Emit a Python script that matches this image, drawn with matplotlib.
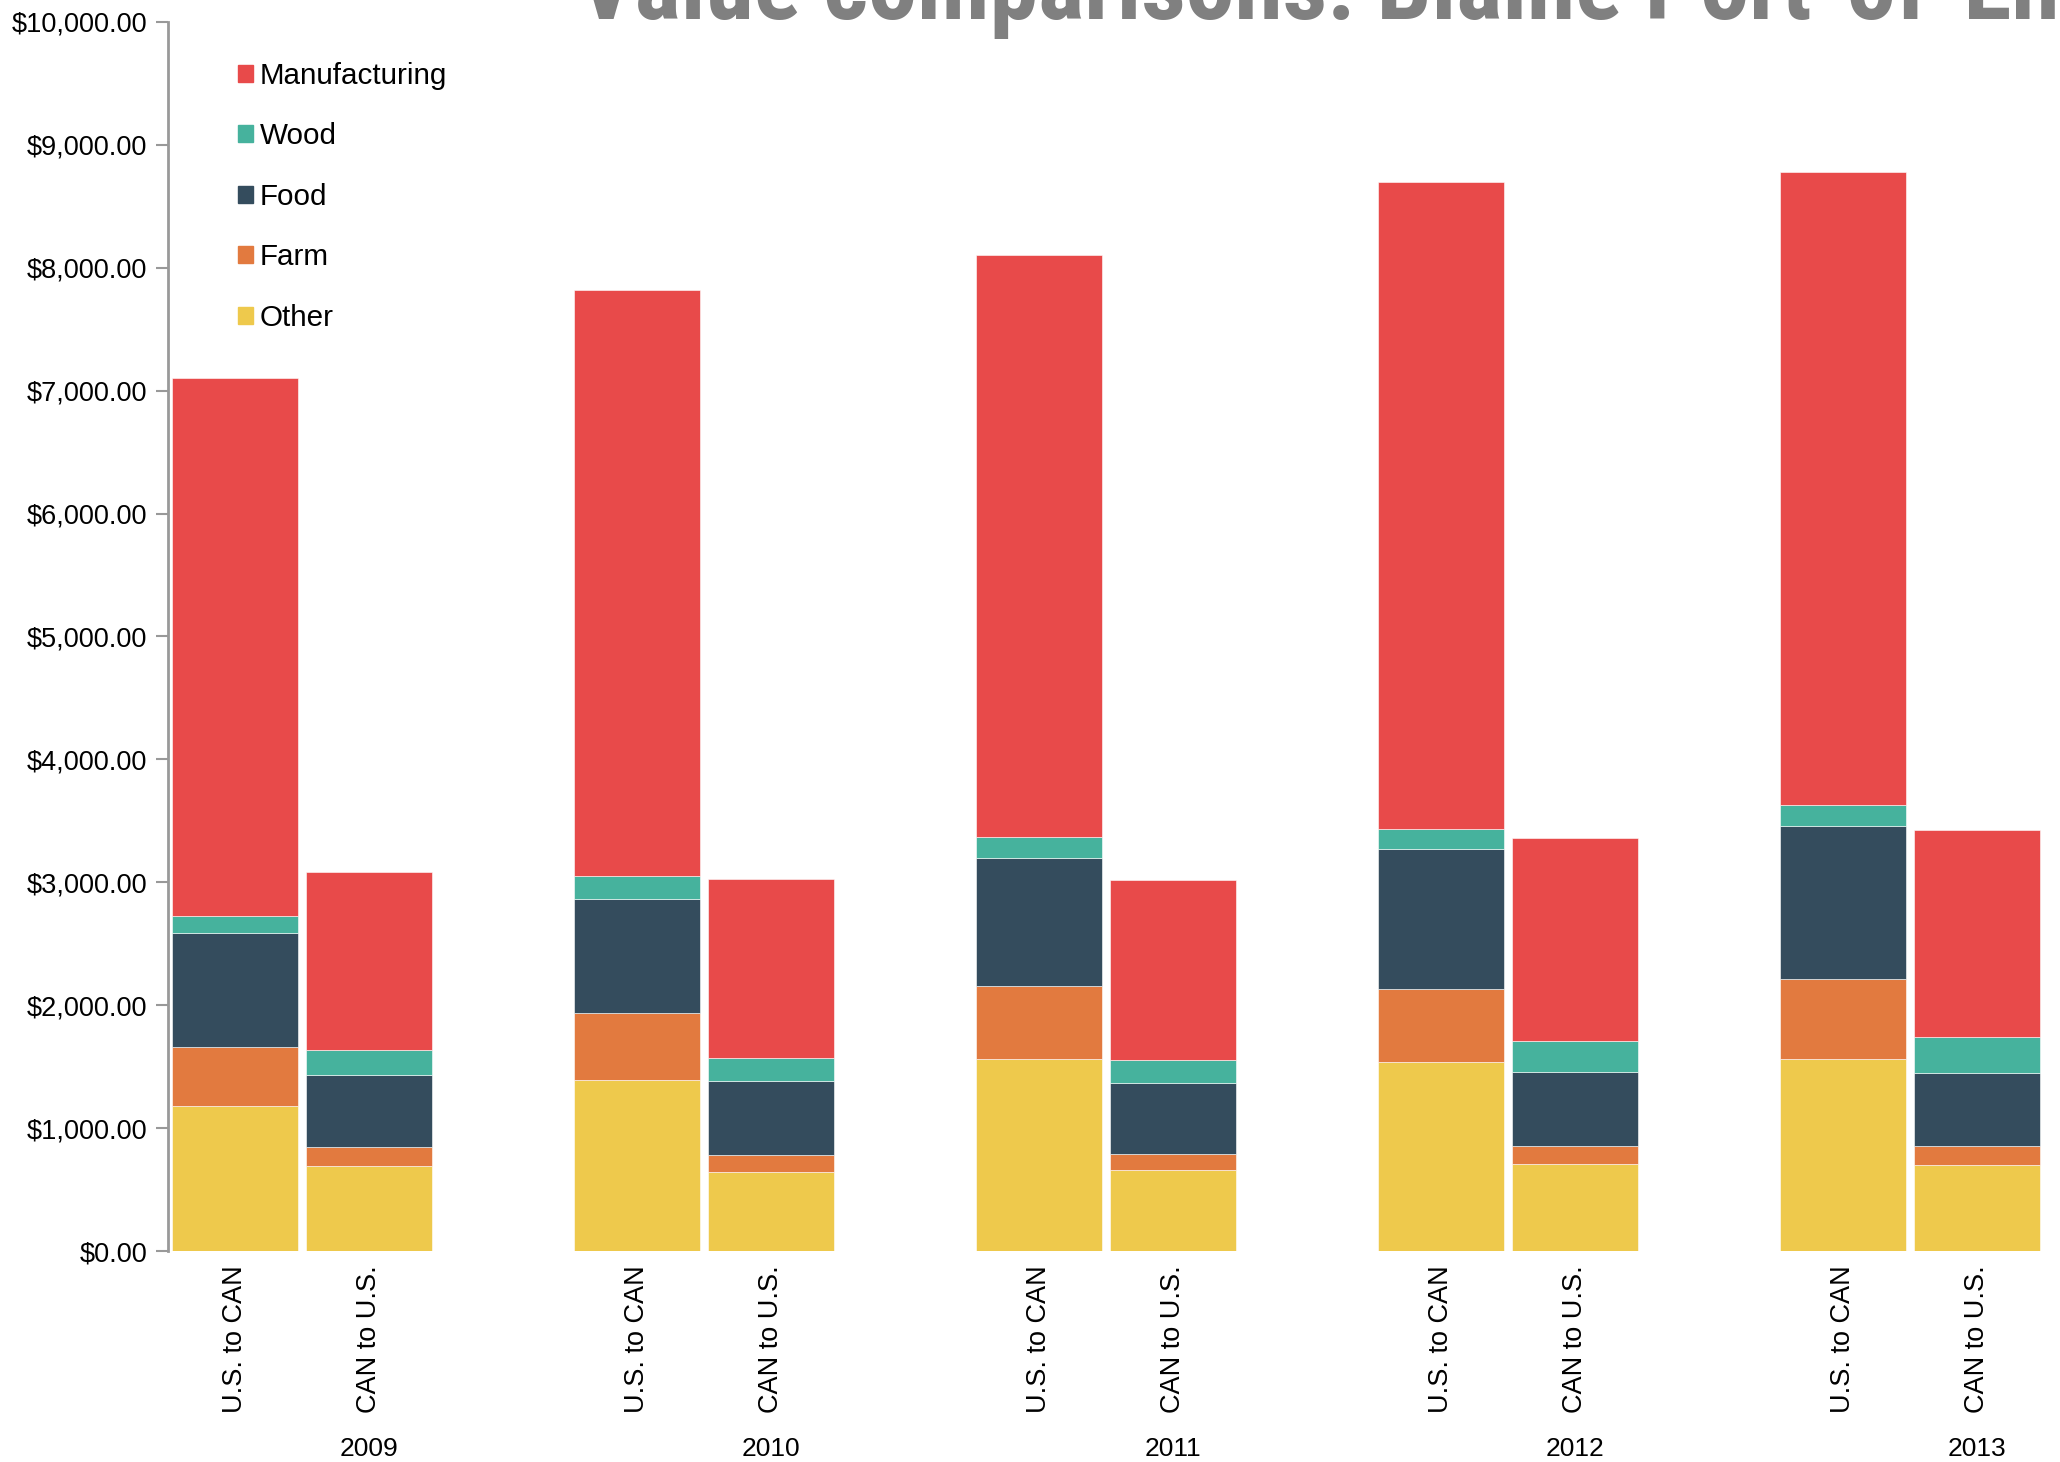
import matplotlib
matplotlib.use("Agg")
import matplotlib.pyplot as plt
from matplotlib import font_manager
from matplotlib.patches import Patch
from matplotlib.ticker import FuncFormatter
import matplotlib.transforms as mtransforms


YEARS = ["2009", "2010", "2011", "2012", "2013"]
DIRECTIONS = ["U.S. to CAN", "CAN to U.S."]

# segment values per bar, order: 2009 US->CAN, 2009 CAN->US, 2010 ..., 2013 CAN->US
OTHER = [1176, 694, 1390, 642, 1561, 663, 1540, 706, 1562, 703]
FARM = [486, 150, 545, 139, 599, 128, 588, 150, 649, 149]
FOOD = [926, 586, 931, 599, 1038, 578, 1145, 599, 1247, 600]
WOOD = [139, 207, 182, 192, 171, 182, 160, 256, 174, 293]
MANUFACTURING = [4375, 1443, 4770, 1455, 4738, 1465, 5262, 1647, 5149, 1684]

SERIES = [
    ("Other", OTHER, "#EEC94C"),
    ("Farm", FARM, "#E27A3F"),
    ("Food", FOOD, "#344C5D"),
    ("Wood", WOOD, "#46B29D"),
    ("Manufacturing", MANUFACTURING, "#E84A4A"),
]

TITLE = "Value comparisons: Blaine Port-of-Entry"
FONT = ["Liberation Sans", "DejaVu Sans"]
NARROW_PREFS = ["Liberation Sans Narrow", "Arial Narrow", "Roboto Condensed",
                "DejaVu Sans", "Open Sans Condensed", "Noto Sans", "Open Sans"]


def money(v, _pos):
    return f"${v:,.2f}"


def narrow_bold_font():
    # look for an installed condensed bold face for the title
    candidates = [f for f in font_manager.fontManager.ttflist
                  if (f.stretch in ("condensed", "semi-condensed", "extra-condensed")
                      or "Narrow" in f.name or "Condensed" in f.name)
                  and f.weight in ("bold", 700, "semibold", 600)]
    for pref in NARROW_PREFS:
        for f in candidates:
            if f.name == pref:
                return font_manager.FontProperties(fname=f.fname)
    if candidates:
        return font_manager.FontProperties(fname=candidates[0].fname)
    return font_manager.FontProperties(family="DejaVu Sans", weight="bold")


def main() -> None:
    plt.rcParams["font.family"] = FONT

    fig = plt.figure(figsize=(20.6, 14.62), dpi=100)
    ax = fig.add_axes([0.0816, 0.1443, 1 - 0.0816, 0.985 - 0.1443])

    # 3 slots per year group, the third one is left empty as a gap
    x = []
    for i in range(len(YEARS)):
        x.extend([i * 3, i * 3 + 1])

    bottom = [0] * len(x)
    for name, vals, color in SERIES:
        ax.bar(x, vals, bottom=bottom, width=0.94, color=color,
               edgecolor="white", linewidth=0.4, label=name)
        bottom = [b + v for b, v in zip(bottom, vals)]

    ax.set_xlim(-0.5, 13.62)
    ax.set_ylim(0, 10000)
    ax.set_yticks(range(0, 10001, 1000))
    ax.yaxis.set_major_formatter(FuncFormatter(money))

    ax.set_xticks(x)
    ax.set_xticklabels(DIRECTIONS * len(YEARS), rotation=90, va="top", ha="center")
    ax.tick_params(axis="x", length=0, pad=10, labelsize=19.5)
    ax.tick_params(axis="y", length=9, width=1.5, color="#999999", labelsize=19.5, pad=6)

    for side in ["top", "right", "bottom"]:
        ax.spines[side].set_visible(False)
    ax.spines["left"].set_color("#999999")
    ax.spines["left"].set_linewidth(2)

    trans = mtransforms.blended_transform_factory(ax.transData, ax.transAxes)
    for i, year in enumerate(YEARS):
        ax.text(i * 3 + 1, -0.161, year, transform=trans, ha="center",
                va="center", fontsize=19)

    handles = [Patch(color=c, label=n) for n, _, c in reversed(SERIES)]
    ax.legend(handles=handles, loc="upper left", bbox_to_anchor=(0.1085, 0.968),
              bbox_transform=fig.transFigure, frameon=False, fontsize=21.3,
              handlelength=0.5, handleheight=0.5, handletextpad=0.22,
              labelspacing=1.1, borderpad=0)

    title_font = narrow_bold_font()
    title_font.set_size(70.5)
    fig.text(578 / 2060, 1 - 19 / 1462, TITLE, ha="left", va="baseline",
             color="#808080", fontproperties=title_font)

    fig.savefig("out.png", dpi=100)
    plt.close(fig)


if __name__ == "__main__":
    main()
